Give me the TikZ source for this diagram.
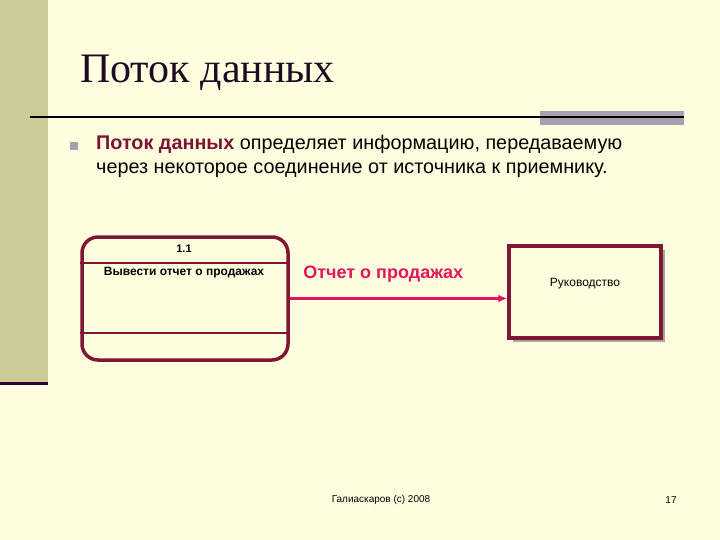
\documentclass[tikz,border=0pt]{standalone}
\usepackage{fontspec}
\setmainfont{Liberation Sans}
\newfontfamily\titlefont{Liberation Serif}
\usetikzlibrary{arrows.meta,shadows}
\definecolor{slidebg}{HTML}{FFFFE0}
\definecolor{stripe}{HTML}{CCCC99}
\definecolor{stripeend}{HTML}{330033}
\definecolor{titleink}{HTML}{1F0A26}
\definecolor{barbg}{HTML}{A6A0B0}
\definecolor{boxred}{HTML}{7F1734}
\definecolor{flowred}{HTML}{E0155A}
\definecolor{keyred}{HTML}{7A1535}
\definecolor{shadowgray}{HTML}{A0A8A0}
\tikzset{
  procbox/.style={draw=boxred,line width=3.5pt,rounded corners=16pt,
    minimum width=206pt,minimum height=123pt,inner sep=0pt},
  entbox/.style={draw=boxred,line width=3.5pt,fill=slidebg,
    minimum width=152pt,minimum height=92pt,inner sep=0pt,
    drop shadow={shadow xshift=4pt,shadow yshift=-4pt,fill=shadowgray,opacity=1}},
  flow/.style={draw=flowred,line width=3.5pt,-{Latex[length=9pt,width=8pt]}},
  smalltext/.style={font=\fontsize{12}{14}\selectfont},
}
\begin{document}
\begin{tikzpicture}[x=1pt,y=-1pt]
 % slide background
 \fill[slidebg](0,0) rectangle (720,540);
 \useasboundingbox (0,0) rectangle (720,540);
 \fill[stripe](0,0) rectangle (48,382);
 \fill[stripeend](0,382) rectangle (48,385);
 \fill[barbg](540,111) rectangle (684,125);
 \draw[line width=2pt](30,117)--(684,117);
 % heading and bullet
 \node[anchor=base west,inner sep=0pt,text=titleink,font=\titlefont\fontsize{42}{46}\selectfont] (title) at (80,83) {Поток данных};
 \fill[barbg](70,142) rectangle (78,150);
 \node[anchor=base west,inner sep=0pt,font=\fontsize{19.8}{22}\selectfont] (line1) at (96,150)
   {\textcolor{keyred}{\bfseries Поток данных} определяет информацию, передаваемую};
 \node[anchor=base west,inner sep=0pt,font=\fontsize{19.8}{22}\selectfont] (line2) at (96,174)
   {через некоторое соединение от источника к приемнику.};
 % diagram
 \node[procbox] (proc) at (185,298.5) {};
 \draw[boxred,line width=2.5pt](proc.west |- 0,263)--(proc.east |- 0,263);
 \draw[boxred,line width=2.5pt](proc.west |- 0,333)--(proc.east |- 0,333);
 \node[font=\bfseries\fontsize{11}{13}\selectfont] (num) at (184,249) {1.1};
 \node[font=\bfseries\fontsize{12}{14}\selectfont] (name) at (184,273) {Вывести отчет о продажах};
 \node[entbox] (ent) at (585,292) {};
 \node[smalltext] (entname) at (585,284) {Руководство};
 \draw[flow](proc.east)--(proc.east -| ent.west)
   node[pos=0.43,above=11pt,text=flowred,font=\bfseries\fontsize{18}{20}\selectfont] (flowlbl) {Отчет о продажах};
 % footer
 \node[font=\fontsize{10}{12}\selectfont] (foot) at (381,500) {Галиаскаров (c) 2008};
 \node[font=\fontsize{10}{12}\selectfont] (page) at (671,500) {17};
\end{tikzpicture}
\end{document}
